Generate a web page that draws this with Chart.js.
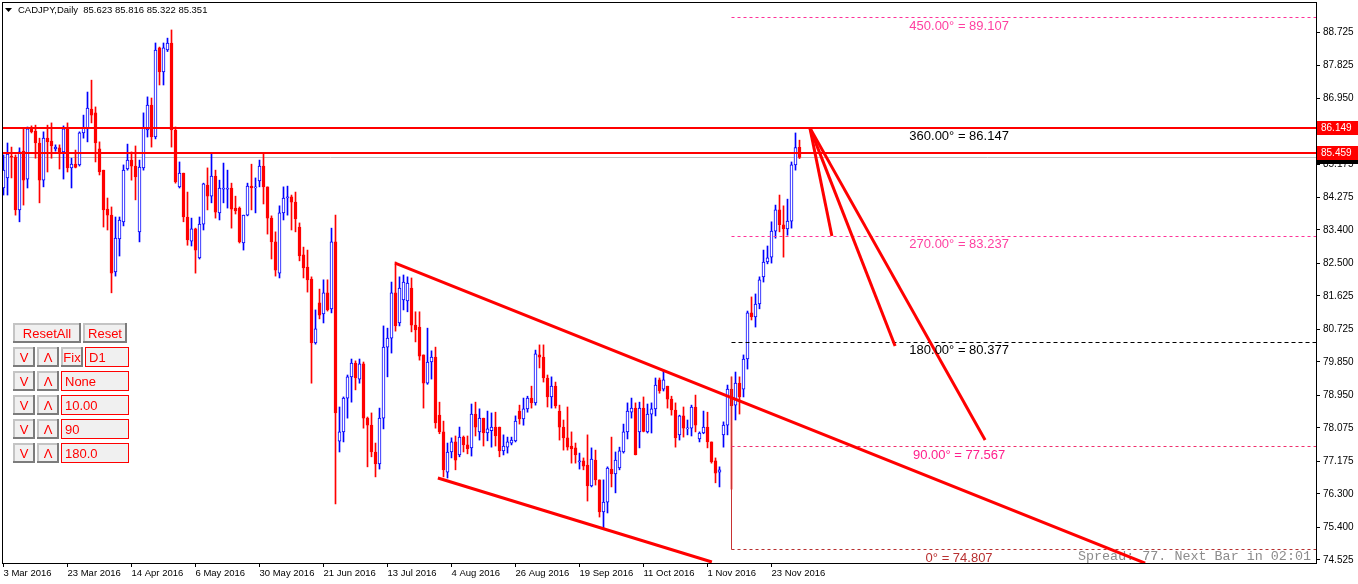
<!DOCTYPE html>
<html>
<head>
<meta charset="utf-8">
<script src="https://cdn.jsdelivr.net/npm/chart.js@4.4.0/dist/chart.umd.min.js"></script>
<style>
  html, body { margin: 0; padding: 0; background: #fff; }
</style>
</head>
<body>
<canvas id="chart" width="1358" height="584"></canvas>
<script>
// ---- data (CADJPY daily, bar index 0 = 3 Mar 2016) ----
const symbolTitle = 'CADJPY,Daily';
const lastQuote = [85.623, 85.816, 85.322, 85.351];

const opens = [
  84.53, 84.80, 85.39, 85.36, 83.94, 85.52, 84.77, 86.14, 86.06, 85.74,
  84.74, 85.87, 85.79, 85.58, 85.61, 85.50, 86.12, 85.07, 85.17, 85.15,
  86.01, 86.12, 86.65, 86.55, 85.58, 85.01, 83.96, 83.80, 82.27, 83.16,
  83.62, 85.04, 85.28, 85.12, 83.35, 85.07, 86.09, 86.76, 85.90, 88.30,
  87.65, 88.24, 88.43, 86.09, 84.56, 84.93, 83.75, 83.10, 83.43, 82.65,
  83.56, 84.61, 84.31, 84.85, 83.86, 84.50, 84.50, 84.53, 83.99, 83.99,
  83.05, 83.80, 84.58, 84.53, 84.72, 85.12, 84.56, 83.72, 83.08, 82.24,
  83.86, 84.26, 84.29, 84.15, 83.48, 82.73, 82.40, 82.08, 80.36, 81.44,
  81.14, 81.71, 81.28, 83.08, 77.72, 77.97, 78.88, 79.45, 79.82, 79.39,
  79.80, 78.34, 78.15, 77.43, 77.11, 78.34, 80.25, 80.49, 81.71, 80.90,
  81.52, 81.49, 81.84, 80.84, 80.79, 80.04, 79.28, 79.85, 79.98, 78.42,
  77.97, 76.89, 77.43, 77.70, 77.35, 77.83, 77.62, 77.54, 78.45, 77.97,
  78.34, 77.94, 78.00, 78.10, 78.10, 77.46, 77.56, 77.67, 77.73, 78.53,
  78.32, 78.59, 78.88, 78.75, 80.04, 79.98, 79.42, 78.91, 79.20, 78.53,
  78.10, 77.81, 77.59, 77.54, 77.16, 77.19, 77.08, 76.52, 77.21, 76.68,
  75.82, 76.08, 76.97, 76.84, 77.00, 77.43, 77.97, 78.50, 78.61, 77.97,
  78.61, 77.97, 78.45, 78.59, 79.37, 79.12, 79.20, 78.85, 78.56, 77.89,
  78.40, 78.05, 78.07, 78.64, 77.78, 77.94, 78.10, 77.70, 77.19, 76.89,
  77.89, 78.15, 79.12, 78.69, 79.28, 79.12, 79.93, 81.17, 81.06, 81.41,
  82.14, 82.54, 82.67, 83.37, 83.94, 83.54, 83.43, 83.64, 85.15, 85.623
];
const highs = [
  85.42, 85.74, 85.63, 85.42, 85.61, 86.14, 86.17, 86.20, 86.22, 85.87,
  86.04, 86.22, 86.28, 85.69, 85.69, 86.20, 86.28, 85.33, 85.55, 86.04,
  86.49, 87.11, 87.43, 86.71, 85.77, 85.01, 84.26, 84.02, 83.75, 83.75,
  85.15, 85.71, 85.50, 85.66, 85.28, 86.55, 86.98, 86.95, 88.43, 88.32,
  88.43, 88.56, 88.78, 86.17, 85.23, 84.93, 84.42, 83.72, 83.45, 83.75,
  84.66, 85.07, 85.47, 85.01, 84.74, 85.20, 85.01, 84.66, 84.31, 84.02,
  83.80, 84.66, 85.17, 84.80, 85.28, 85.47, 84.56, 83.78, 83.35, 84.05,
  84.56, 84.58, 84.34, 84.42, 83.59, 82.94, 82.86, 82.14, 81.25, 81.81,
  82.06, 82.06, 83.45, 83.80, 78.64, 78.91, 79.50, 79.93, 79.88, 79.93,
  79.85, 78.37, 78.48, 77.67, 78.61, 80.82, 80.76, 82.00, 82.54, 82.14,
  82.19, 82.14, 82.11, 81.20, 81.20, 80.04, 80.76, 80.15, 80.25, 78.77,
  78.26, 77.67, 77.81, 77.86, 78.10, 77.86, 77.86, 78.72, 78.77, 78.59,
  78.34, 78.53, 78.48, 78.50, 78.10, 77.89, 77.83, 77.83, 78.40, 78.69,
  78.88, 78.93, 79.20, 80.17, 80.31, 80.31, 79.50, 79.45, 79.31, 78.69,
  78.29, 78.64, 77.97, 77.67, 77.40, 77.27, 77.89, 77.54, 77.48, 76.68,
  76.68, 77.03, 77.83, 77.43, 77.56, 78.18, 78.75, 78.88, 78.75, 78.77,
  78.91, 78.72, 78.75, 79.42, 79.42, 79.63, 79.20, 78.93, 78.75, 78.42,
  78.64, 78.29, 78.69, 78.96, 77.97, 78.53, 78.50, 77.70, 77.27, 77.03,
  78.24, 79.23, 79.45, 79.58, 79.45, 80.04, 81.22, 81.60, 81.68, 82.14,
  82.86, 82.97, 83.62, 84.07, 84.34, 84.05, 84.23, 85.23, 86.01, 85.816
];
const lows = [
  84.34, 84.34, 84.80, 83.80, 83.62, 84.07, 84.53, 86.01, 85.33, 84.13,
  84.56, 84.96, 85.33, 85.52, 85.04, 84.77, 84.96, 84.53, 85.07, 85.12,
  85.87, 85.77, 86.28, 85.23, 84.88, 83.48, 83.40, 81.71, 82.16, 82.70,
  83.51, 85.01, 84.74, 84.21, 83.08, 85.01, 85.90, 85.63, 85.85, 87.30,
  87.30, 88.20, 85.63, 84.66, 84.53, 83.62, 82.99, 82.97, 82.24, 82.62,
  83.40, 83.94, 84.13, 83.72, 83.67, 84.13, 83.99, 83.45, 83.83, 83.05,
  82.86, 83.78, 83.94, 83.86, 84.56, 84.10, 83.29, 82.62, 82.16, 82.11,
  83.67, 83.80, 83.40, 83.35, 82.57, 82.11, 81.73, 79.28, 80.33, 81.01,
  80.90, 81.22, 81.17, 76.03, 77.43, 77.70, 78.34, 78.77, 79.10, 79.28,
  78.07, 77.03, 77.30, 76.76, 76.97, 78.05, 79.45, 80.09, 80.68, 80.82,
  81.25, 81.20, 80.66, 80.39, 79.90, 78.61, 79.25, 79.39, 78.07, 77.92,
  76.76, 76.73, 77.27, 76.95, 77.30, 77.43, 77.38, 77.32, 77.86, 77.75,
  77.59, 77.73, 77.56, 77.59, 77.30, 77.35, 77.40, 77.62, 77.70, 78.18,
  78.15, 78.50, 78.61, 78.69, 79.69, 79.31, 78.64, 78.61, 78.61, 77.75,
  77.48, 77.48, 77.13, 77.13, 76.97, 76.95, 76.11, 76.49, 76.54, 75.68,
  75.39, 75.79, 76.49, 76.33, 76.95, 77.40, 77.78, 78.34, 77.35, 77.54,
  77.97, 77.94, 77.94, 78.40, 79.01, 79.07, 78.61, 78.42, 77.56, 77.75,
  77.83, 77.89, 77.86, 77.97, 77.70, 77.92, 77.54, 77.13, 76.60, 76.49,
  77.56, 77.89, 76.43, 78.29, 78.45, 78.91, 79.66, 80.98, 80.79, 81.28,
  82.00, 82.49, 82.51, 83.18, 83.35, 82.67, 83.26, 83.45, 85.01, 85.322
];
const closes = [
  85.01, 85.44, 85.36, 83.94, 85.50, 84.74, 86.12, 86.04, 85.74, 84.74,
  85.87, 85.77, 85.66, 85.63, 85.50, 86.12, 85.07, 85.17, 85.08, 86.01,
  86.14, 86.68, 86.49, 85.74, 84.96, 83.94, 83.80, 82.24, 83.18, 83.67,
  85.01, 85.28, 85.12, 84.83, 85.09, 86.14, 86.76, 85.90, 88.24, 87.65,
  88.30, 88.43, 86.09, 84.69, 84.93, 83.75, 83.13, 83.43, 82.86, 83.56,
  84.64, 84.31, 84.85, 83.88, 84.53, 84.53, 84.53, 83.96, 83.91, 83.08,
  83.80, 84.58, 84.53, 84.56, 85.12, 84.56, 83.72, 83.08, 82.32, 83.86,
  84.26, 84.29, 84.15, 83.70, 82.70, 82.38, 82.06, 80.36, 80.74, 81.11,
  81.71, 81.25, 83.08, 78.48, 77.97, 78.88, 79.45, 79.82, 79.42, 79.80,
  78.34, 78.15, 77.43, 77.11, 78.34, 80.25, 80.49, 81.71, 80.82, 81.84,
  82.00, 81.97, 80.84, 80.71, 80.01, 79.28, 79.85, 79.98, 78.21, 77.97,
  76.95, 77.43, 77.70, 77.21, 77.83, 77.62, 77.51, 78.45, 78.10, 78.34,
  77.94, 78.05, 78.10, 77.86, 77.46, 77.59, 77.70, 77.75, 78.26, 78.32,
  78.59, 78.88, 78.75, 80.07, 79.98, 79.42, 78.91, 79.20, 78.67, 78.10,
  77.81, 77.56, 77.51, 77.35, 77.19, 77.05, 76.52, 77.24, 76.68, 75.82,
  76.08, 77.00, 76.84, 77.21, 77.46, 77.97, 78.53, 78.61, 77.36, 78.61,
  77.98, 78.45, 78.59, 79.23, 79.07, 79.37, 78.85, 78.56, 77.81, 78.40,
  78.07, 78.07, 78.64, 78.15, 77.94, 78.10, 77.70, 77.16, 76.86, 76.95,
  78.15, 79.12, 78.67, 79.28, 78.91, 79.93, 81.17, 81.06, 81.41, 82.06,
  82.54, 82.65, 83.37, 83.94, 83.54, 83.43, 83.64, 85.15, 85.62, 85.351
];

const dateLabels = ['3 Mar 2016', '23 Mar 2016', '14 Apr 2016', '6 May 2016', '30 May 2016',
  '21 Jun 2016', '13 Jul 2016', '4 Aug 2016', '26 Aug 2016', '19 Sep 2016', '11 Oct 2016',
  '1 Nov 2016', '23 Nov 2016'];
const barsPerDateLabel = 16;
const priceTicks = [88.725, 87.825, 86.950, 86.050, 85.175, 84.275, 83.400, 82.500, 81.625,
  80.725, 79.850, 78.950, 78.075, 77.175, 76.300, 75.400, 74.525];

const hLevels = [86.149, 85.459];
const bidPrice = 85.351;

// gann grid: angle names and prices
const gannNames = ['450.00°', '360.00°', '270.00°', '180.00°', '90.00°', '0°'];
const gannPrices = [89.107, 86.147, 83.237, 80.377, 77.567, 74.807];
const gannStartBar = 182;
const gannStemTop = 79.45;

// drawn tools as [bar, price] anchors
const channelUpper = [[97.9, 82.51], [285.4, 74.44]];
const channelLower = [[108.6, 76.73], [177.1, 74.47]];
const fanOrigin = [201.6, 86.147];
const fanEnds = [[207.1, 83.237], [222.9, 80.28], [245.4, 77.75]];

const panelTop = ['ResetAll', 'Reset'];
const panelValues = ['D1', 'None', '10.00', '90', '180.0'];
const spreadInfo = 'Spread: 77. Next Bar in 02:01';

// ---- styling ----
const UP = '#0000ff', DOWN = '#ff0000';
const X_MIN = -0.375, X_MAX = 328.125;
const gannLineColors = ['#ff3399', '#000000', '#ff3399', '#000000', '#f0306e', '#b83030'];
const gannTextColors = ['#ff3fa0', '#000000', '#ff3fa0', '#000000', '#ff1f8c', '#b83030'];
const gannDashes = [[3, 3], [3, 3], [3, 3], [4, 3], [3, 3], [3, 3]];

const isUp = closes.map((c, i) => c >= opens[i]);

function seg(points, color, width, dash, order, flat) {
  return {
    type: 'line',
    data: points.map(p => ({ x: p[0], y: p[1] })),
    borderColor: color,
    borderWidth: width,
    borderDash: dash || [],
    pointRadius: 0,
    fill: false,
    tension: 0,
    clip: 0,
    order: order,
    flatLine: !!flat
  };
}

const datasets = [];
// body and wick of each candle as floating bars
datasets.push({
  type: 'bar',
  data: opens.map((o, i) => ({ x: i, y: [Math.min(o, closes[i]), Math.max(o, closes[i])] })),
  backgroundColor: isUp.map(u => u ? '#ffffff' : DOWN),
  borderColor: isUp.map(u => u ? UP : DOWN),
  borderWidth: 1,
  borderSkipped: false,
  barThickness: 3,
  minBarLength: 1,
  grouped: false,
  order: 3
});
datasets.push({
  type: 'bar',
  data: lows.map((l, i) => ({ x: i, y: [l, highs[i]] })),
  backgroundColor: isUp.map(u => u ? UP : DOWN),
  borderWidth: 0,
  barThickness: 1,
  grouped: false,
  order: 4
});
datasets.push(seg([[X_MIN, bidPrice], [X_MAX, bidPrice]], '#c0c0c0', 1, null, 5, true));

gannPrices.forEach((p, k) => {
  datasets.push(seg([[gannStartBar, p], [X_MAX, p]], gannLineColors[k], 1, gannDashes[k], 2, true));
});
datasets.push(seg([[gannStartBar, gannPrices[5]], [gannStartBar, gannStemTop]], '#c83232', 1, null, 2));

hLevels.forEach(p => datasets.push(seg([[X_MIN, p], [X_MAX, p]], '#ff0000', 2, null, 1, true)));
datasets.push(seg(channelUpper, '#ff0000', 3, null, 1));
datasets.push(seg(channelLower, '#ff0000', 3, null, 1));
fanEnds.forEach(e => datasets.push(seg([fanOrigin, e], '#ff0000', 3, null, 1)));

function drawButton(ctx, x, y, w, h, label) {
  ctx.fillStyle = '#f0f0f0';
  ctx.fillRect(x, y, w, h);
  ctx.fillStyle = '#c4c4c4';
  ctx.fillRect(x, y, w, 2);
  ctx.fillRect(x, y, 2, h);
  ctx.fillStyle = '#7c7c7c';
  ctx.fillRect(x, y + h - 2, w, 2);
  ctx.fillRect(x + w - 2, y, 2, h);
  ctx.fillStyle = '#ff0000';
  ctx.textAlign = 'center';
  ctx.fillText(label, x + w / 2, y + h / 2 + 1);
}

function drawField(ctx, x, y, w, h, label) {
  ctx.fillStyle = '#f0f0f0';
  ctx.fillRect(x, y, w, h);
  ctx.strokeStyle = '#ff0000';
  ctx.lineWidth = 1;
  ctx.strokeRect(x + 0.5, y + 0.5, w - 1, h - 1);
  ctx.fillStyle = '#ff0000';
  ctx.textAlign = 'left';
  ctx.fillText(label, x + 4, y + h / 2 + 1);
}

const overlay = {
  id: 'overlay',
  beforeDatasetsDraw(chart) {
    const ctx = chart.ctx;
    ctx.save();
    ctx.font = '13.4px "Liberation Mono", monospace';
    ctx.fillStyle = '#8c8c8c';
    ctx.textAlign = 'right';
    ctx.textBaseline = 'alphabetic';
    ctx.fillText(spreadInfo, 1311, 560);
    ctx.restore();
  },
  // keep horizontal levels on whole pixels so thin dashes stay crisp
  beforeDatasetDraw(chart, args) {
    const ds = chart.data.datasets[args.index];
    if (!ds.flatLine) return;
    const y = chart.scales.y.getPixelForValue(ds.data[0].y);
    const target = ds.borderWidth % 2 ? Math.floor(y) + 0.5 : Math.round(y);
    chart.ctx.save();
    chart.ctx.translate(0, target - y);
  },
  afterDatasetDraw(chart, args) {
    const ds = chart.data.datasets[args.index];
    if (ds.flatLine) chart.ctx.restore();
  },
  afterDatasetsDraw(chart) {
    const ctx = chart.ctx;
    const xs = chart.scales.x, ys = chart.scales.y;
    const area = chart.chartArea;

    // gann level captions
    ctx.save();
    ctx.font = '13px "Liberation Sans", Arial, sans-serif';
    ctx.textAlign = 'center';
    ctx.textBaseline = 'top';
    gannPrices.forEach((p, k) => {
      ctx.fillStyle = gannTextColors[k];
      ctx.fillText(gannNames[k] + ' = ' + p.toFixed(3), xs.getPixelForValue(238.9), ys.getPixelForValue(p) + 2);
    });
    ctx.restore();

    // price tags on the axis
    ctx.save();
    ctx.font = '10px "Liberation Sans", Arial, sans-serif';
    ctx.textBaseline = 'middle';
    ctx.textAlign = 'left';
    const tag = (p, bg) => {
      const y = Math.round(ys.getPixelForValue(p));
      ctx.fillStyle = bg;
      ctx.fillRect(area.right + 1, y - 7, 41, 14);
      ctx.fillStyle = '#ffffff';
      ctx.fillText(p.toFixed(3), area.right + 5, y);
    };
    tag(bidPrice, '#000000');
    hLevels.forEach(p => tag(p, '#ff0000'));
    ctx.restore();

    // frame
    ctx.save();
    ctx.strokeStyle = '#000000';
    ctx.lineWidth = 1;
    ctx.strokeRect(area.left + 0.5, area.top + 0.5, area.right - area.left, area.bottom - area.top);
    ctx.restore();
  },
  afterDraw(chart) {
    const ctx = chart.ctx;
    ctx.save();
    // header
    ctx.fillStyle = '#000000';
    ctx.beginPath();
    ctx.moveTo(5, 8); ctx.lineTo(12, 8); ctx.lineTo(8.5, 12); ctx.closePath();
    ctx.fill();
    ctx.font = '9.5px "Liberation Sans", Arial, sans-serif';
    ctx.textBaseline = 'middle';
    ctx.textAlign = 'left';
    ctx.fillText(symbolTitle + '  ' + lastQuote.map(v => v.toFixed(3)).join(' '), 18, 10);

    // control panel
    ctx.font = '13px "Liberation Sans", Arial, sans-serif';
    ctx.textBaseline = 'middle';
    drawButton(ctx, 13, 323, 68, 20, panelTop[0]);
    drawButton(ctx, 83, 323, 44, 20, panelTop[1]);
    panelValues.forEach((v, r) => {
      const y = 347 + r * 24;
      drawButton(ctx, 13, y, 22, 20, 'V');
      drawButton(ctx, 37, y, 22, 20, 'Λ');
      if (r === 0) {
        drawButton(ctx, 61, y, 22, 20, 'Fix');
        drawField(ctx, 85, y, 44, 20, v);
      } else {
        drawField(ctx, 61, y, 68, 20, v);
      }
    });
    ctx.restore();
  }
};

new Chart(document.getElementById('chart'), {
  type: 'bar',
  data: { datasets: datasets },
  plugins: [overlay],
  options: {
    responsive: false,
    animation: false,
    devicePixelRatio: 1,
    layout: { padding: { left: 2, top: 2, right: 0, bottom: 0 } },
    plugins: { legend: { display: false }, tooltip: { enabled: false } },
    scales: {
      x: {
        type: 'linear',
        min: X_MIN,
        max: X_MAX,
        offset: false,
        bounds: 'data',
        afterBuildTicks: axis => {
          axis.ticks = dateLabels.map((_, k) => ({ value: k * barsPerDateLabel }));
        },
        afterFit: axis => { axis.height = 21; axis.paddingLeft = 0; axis.paddingRight = 0; },
        ticks: {
          autoSkip: false,
          maxRotation: 0,
          minRotation: 0,
          align: 'start',
          padding: 1,
          color: '#000000',
          font: { family: '"Liberation Sans", Arial, sans-serif', size: 9.5 },
          callback: v => dateLabels[Math.round(v / barsPerDateLabel)]
        },
        grid: { display: true, drawOnChartArea: false, drawTicks: true, tickLength: 4, color: '#000000', offset: false },
        border: { display: false }
      },
      y: {
        type: 'linear',
        position: 'right',
        min: 74.444,
        max: 89.532,
        bounds: 'data',
        afterBuildTicks: axis => { axis.ticks = priceTicks.map(v => ({ value: v })); },
        afterFit: axis => { axis.width = 42; axis.paddingTop = 0; axis.paddingBottom = 0; },
        ticks: {
          padding: 3,
          color: '#000000',
          font: { family: '"Liberation Sans", Arial, sans-serif', size: 10 },
          callback: v => v.toFixed(3)
        },
        grid: { display: true, drawOnChartArea: false, drawTicks: true, tickLength: 4, color: '#000000' },
        border: { display: false }
      }
    }
  }
});
</script>
</body>
</html>
